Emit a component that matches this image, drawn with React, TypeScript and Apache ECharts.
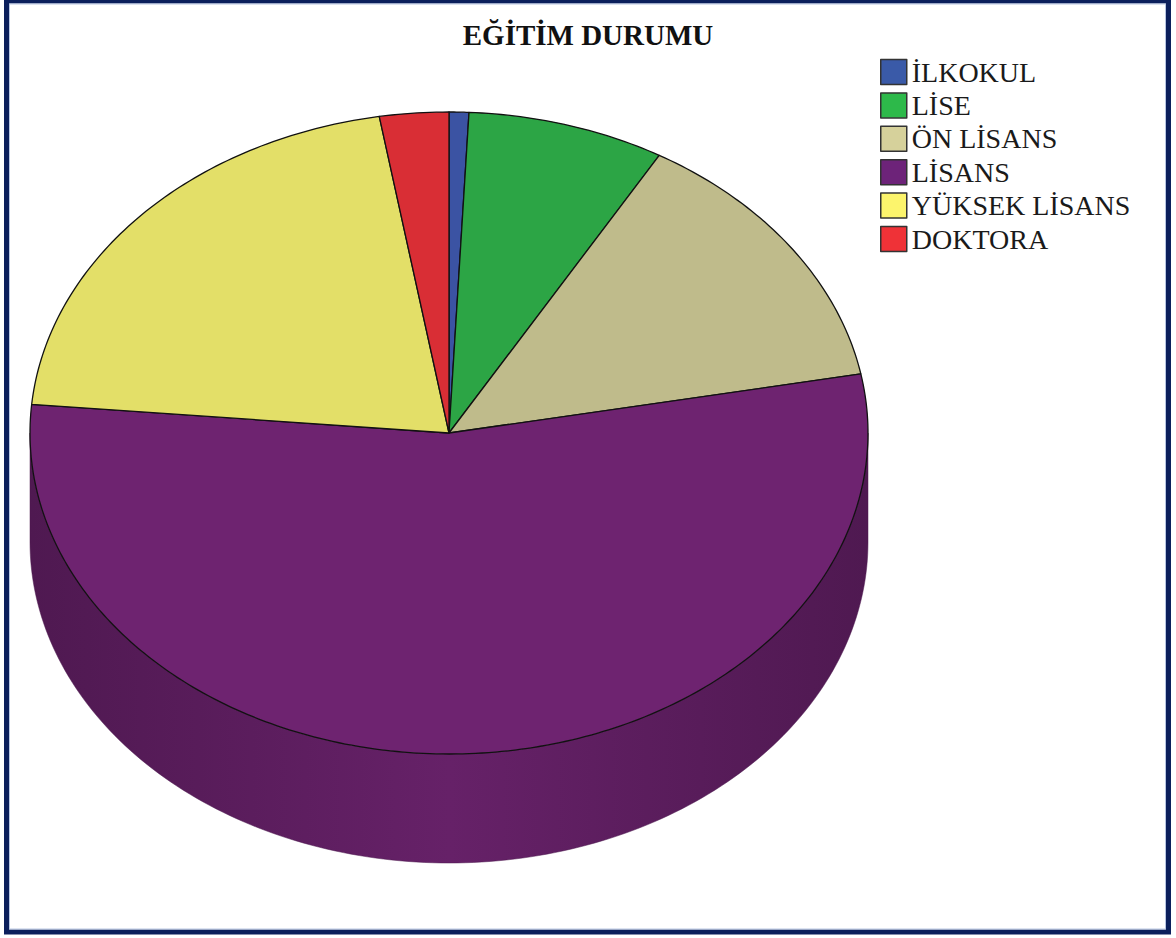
import React, { useEffect, useRef } from "react";
import * as echarts from "echarts";

const TITLE = "EĞİTİM DURUMU";
const categories = ["İLKOKUL", "LİSE", "ÖN LİSANS", "LİSANS", "YÜKSEK LİSANS", "DOKTORA"];
const counts = [2, 20, 36, 143, 55, 7];
const sliceColors = ["#3b53a3", "#2ca545", "#bfbb8b", "#6e2370", "#e3df68", "#d92e35"];
const legendColors = ["#3a5aa8", "#2db94a", "#d6d19b", "#6d2379", "#fcf46c", "#ef3237"];

const CX = 449;
const CY = 433;
const RX = 419;
const RY = 321;
const DEPTH = 109;

function shade(hex: string, f: number): string {
  const n = parseInt(hex.slice(1), 16);
  const r = Math.round(((n >> 16) & 255) * f);
  const g = Math.round(((n >> 8) & 255) * f);
  const b = Math.round((n & 255) * f);
  return `rgb(${r},${g},${b})`;
}

function pt(t: number, dy = 0): number[] {
  return [CX + RX * Math.sin(t), CY - RY * Math.cos(t) + dy];
}

export default function App() {
  const ref = useRef<HTMLDivElement>(null);
  useEffect(() => {
    if (!ref.current) return;
    const chart = echarts.init(ref.current, null, { renderer: "svg" });
    const total = counts.reduce((a, b) => a + b, 0);
    const starts: number[] = [];
    let acc = 0;
    counts.forEach((c) => {
      starts.push(acc);
      acc += c;
    });
    const angleOf = (i: number, v: number) => {
      const a0 = (starts[i] / total) * Math.PI * 2;
      const a1 = ((starts[i] + v) / total) * Math.PI * 2;
      return [a0, a1];
    };
    const data = categories.map((name, i) => ({ name, value: counts[i] }));

    const sideItem = (params: any, api: any) => {
      const i = params.dataIndex;
      const [a0, a1] = angleOf(i, api.value(0));
      const s = Math.max(a0, Math.PI / 2);
      const e = Math.min(a1, (Math.PI * 3) / 2);
      if (e <= s) return { type: "group", children: [] };
      const pts: number[][] = [];
      const N = 160;
      for (let k = 0; k <= N; k++) pts.push(pt(s + ((e - s) * k) / N));
      for (let k = N; k >= 0; k--) pts.push(pt(s + ((e - s) * k) / N, DEPTH));
      const c = sliceColors[i];
      return {
        type: "polygon",
        shape: { points: pts },
        style: {
          fill: new echarts.graphic.LinearGradient(
            CX - RX, 0, CX + RX, 0,
            [
              { offset: 0, color: shade(c, 0.72) },
              { offset: 0.2, color: shade(c, 0.8) },
              { offset: 0.5, color: shade(c, 0.93) },
              { offset: 0.8, color: shade(c, 0.8) },
              { offset: 1, color: shade(c, 0.72) },
            ],
            true
          ),
          stroke: shade(c, 0.7),
          lineWidth: 0.5,
        },
      };
    };

    const topItem = (params: any, api: any) => {
      const i = params.dataIndex;
      const [a0, a1] = angleOf(i, api.value(0));
      const pts: number[][] = [[CX, CY]];
      const N = Math.max(8, Math.ceil(((a1 - a0) / (Math.PI * 2)) * 400));
      for (let k = 0; k <= N; k++) pts.push(pt(a0 + ((a1 - a0) * k) / N));
      return {
        type: "polygon",
        shape: { points: pts },
        style: { fill: sliceColors[i], stroke: "#111", lineWidth: 1.3, lineJoin: "round" },
      };
    };

    chart.setOption({
      animation: false,
      backgroundColor: "#ffffff",
      title: {
        text: TITLE,
        left: "center",
        top: 15,
        textStyle: {
          fontFamily: "Liberation Serif",
          fontWeight: "bold",
          fontSize: 29,
          color: "#111",
        },
      },
      legend: {
        orient: "vertical",
        left: 880,
        top: 58,
        padding: 0,
        itemWidth: 26,
        itemHeight: 25,
        itemGap: 5.4,
        icon: "rect",
        data: categories,
        itemStyle: { borderColor: "#333", borderWidth: 1.5 },
        textStyle: {
          fontFamily: "Liberation Serif",
          fontSize: 28,
          color: "#1a1a1a",
        },
      },
      graphic: [
        {
          type: "rect",
          shape: { x: 6.5, y: 1, width: 1162, height: 931 },
          style: { fill: "none", stroke: "#0b1f5c", lineWidth: 5 },
          silent: true,
        },
        {
          type: "rect",
          shape: { x: 9.5, y: 4, width: 1156, height: 925 },
          style: { fill: "none", stroke: "#b8c6e2", lineWidth: 1 },
          silent: true,
        },
      ],
      series: [
        {
          type: "pie",
          name: "legendSource",
          radius: [0, 0],
          center: [-100, -100],
          silent: true,
          label: { show: false },
          labelLine: { show: false },
          data: data.map((d, i) => ({ ...d, itemStyle: { color: legendColors[i] } })),
        },
        {
          type: "custom",
          name: "side",
          coordinateSystem: "none",
          silent: true,
          renderItem: sideItem,
          data: data,
        },
        {
          type: "custom",
          name: "top",
          coordinateSystem: "none",
          silent: true,
          renderItem: topItem,
          data: data,
        },
      ],
    });
    return () => chart.dispose();
  }, []);
  return (
    <div
      ref={ref}
      style={{ position: "fixed", left: 0, top: 0, width: 1176, height: 938, background: "#fff" }}
    />
  );
}
